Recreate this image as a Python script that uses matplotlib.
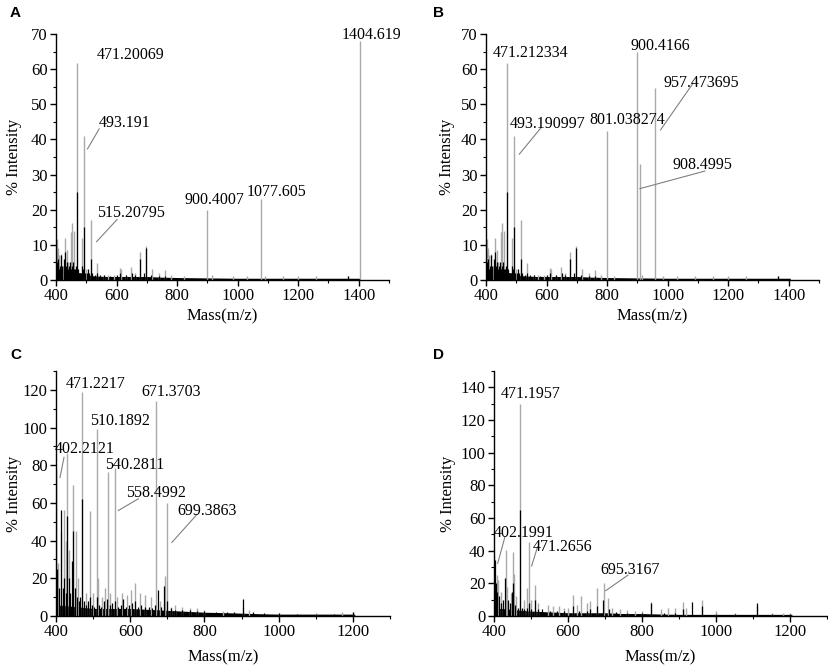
import matplotlib
matplotlib.use("Agg")
import matplotlib.pyplot as plt
from matplotlib.ticker import MultipleLocator

plt.rcParams['font.family'] = ['Liberation Serif', 'DejaVu Serif']

GREY = '#a9a9a9'
LEAD = '#808080'

# ---------------- data ----------------
# Panels A and B share the same low-mass spectrum
ab_black_mz = [401, 403, 406, 409, 412, 415, 418, 421, 425, 428, 431, 434, 437, 440, 443,
               446, 449, 452, 455, 458, 461, 464, 467, 471, 474, 478, 482, 486, 490, 493,
               497, 501, 505, 509, 515, 520, 528, 537, 545, 560, 580, 600, 612, 630, 650,
               660, 677, 690, 696, 715, 740, 760, 1365]
ab_black_int = [8, 5, 6, 3, 4, 7, 3, 4, 6, 3, 8, 4, 5, 3, 4,
                5, 3, 4, 5, 3, 2, 3, 4, 25, 3, 2, 2, 4, 3, 15,
                2, 2, 3, 2, 6, 2, 1.5, 2, 1.5, 1.5, 1.2, 1.5, 2, 1.5, 2,
                1.5, 6, 2, 9, 1.5, 1, 1, 1]
ab_grey_mz = [402, 406, 411, 416, 423, 431, 436, 441, 449, 454, 458, 471, 487, 493, 500,
              515, 537, 557, 573, 590, 610, 615, 630, 649, 660, 676, 696, 717, 739, 761,
              780, 822, 916, 985, 1030, 1090, 1150, 1200, 1260, 1365]
ab_grey_int = [11.7, 9, 7, 7.5, 4, 12, 8.5, 5, 13.7, 16.3, 14, 61.7, 12, 41, 3,
               17, 4.9, 1.5, 1.5, 1.5, 3.4, 3, 1.5, 3.7, 2, 8, 9.8, 3.1, 2, 2.8,
               1.5, 1.2, 1.5, 1.2, 1, 1, 1, 1, 1, 1]
ab_env_mz = [400, 420, 440, 460, 480, 500, 520, 560, 600, 650, 700, 750, 800, 900, 1000,
             1100, 1200, 1300, 1405]
ab_env_int = [2.5, 2.5, 2.5, 2.5, 2, 1.5, 1.2, 1, 1, 1, 1, 0.8, 0.7, 0.6, 0.5,
              0.5, 0.5, 0.5, 0.5]

a_extra_mz = [900.4007, 1077.605, 1404.619]
a_extra_int = [20, 23, 68]
b_extra_mz = [801.038274, 900.4166, 908.4995, 957.473695]
b_extra_int = [42.4, 65, 33, 54.5]

c_grey_mz = [405, 413, 421, 427, 430.5, 436, 447, 454, 460, 471, 480, 491.6, 500, 509.6,
             513, 525, 532, 539, 545, 558, 565, 578, 590, 603, 613, 625, 640, 655, 669.5,
             680, 694, 698, 710, 720, 740, 760, 780, 800, 850, 905, 920, 1000, 1100, 1170, 1200]
c_grey_int = [28, 45, 56, 40, 86.5, 35, 69.5, 45, 20, 119, 12, 55.5, 12, 99,
              20, 10, 15, 76.6, 12, 78.4, 10, 12, 11, 14, 17.4, 12, 11, 10, 114,
              8, 21, 60, 5, 6, 5, 4, 4, 3, 2.5, 5, 3, 1.5, 1.5, 2, 2]
c_black_mz = [401, 404, 408, 413.5, 418, 422, 426, 430, 434, 438, 443, 447, 451, 456, 462,
              466, 471, 476, 482, 487, 492, 497, 503, 510, 516, 522, 530, 538, 545, 552,
              558, 566, 574, 580, 588, 596, 604, 612, 620, 630, 640, 650, 660, 668, 675,
              683, 691, 700, 710, 720, 740, 760, 780, 800, 830, 860, 880, 904, 930, 960,
              1000, 1050, 1100, 1150, 1200]
c_black_int = [78, 25, 15, 56, 15, 20, 12, 53, 20, 12, 29, 45, 15, 10, 8,
               10, 62, 8, 6, 8, 10, 6, 5, 10, 6, 5, 8, 9, 6, 7,
               8, 5, 6, 9, 5, 6, 7, 8, 5, 6, 5, 5, 4, 6, 14,
               5, 16, 8, 4, 3, 3, 3, 2.5, 2.5, 2, 2, 2, 9, 2, 1.5,
               1.5, 1.2, 1.2, 1.2, 2]
c_env_mz = [400, 450, 500, 550, 600, 650, 700, 750, 800, 850, 900, 950, 1000, 1100, 1205]
c_env_int = [6, 5, 4, 4, 4, 3.5, 3, 2.5, 2, 1.8, 1.5, 1.2, 1, 1, 1]

d_grey_mz = [401, 407, 412, 420, 431.5, 436, 445, 450.4, 454, 460, 471, 480, 488, 495,
             500, 512, 520, 545, 560, 575, 590, 600, 613, 625, 636, 650, 660, 677.6, 696.5,
             707, 720, 740, 760, 780, 800, 823, 850, 870, 888, 912, 920, 963, 1000, 1050,
             1110, 1150, 1180, 1200]
d_grey_int = [37, 25, 22, 15, 40.5, 18, 14, 39, 26, 12, 130, 10, 17, 45.4,
              10, 19, 8, 7, 6, 6, 5, 5, 13, 7, 12, 8, 9, 17.3, 20,
              11, 5, 4, 3.5, 3, 3, 8.5, 4, 5, 5, 8.5, 5, 10, 3, 2,
              7, 2, 2, 2]
d_black_mz = [402, 405, 409, 414, 418, 424, 431, 438, 443, 448, 452, 457, 464, 471, 476,
              482, 490, 495, 501, 510, 518, 530, 550, 570, 590, 613, 630, 650, 660, 678,
              695, 710, 730, 760, 800, 823, 860, 890, 910, 935.6, 963, 1000, 1050, 1110.8,
              1150, 1200]
d_black_int = [34, 20, 15, 12, 8, 10, 23, 10, 8, 15, 20, 7, 5, 65, 5,
               4, 5, 8, 4, 10, 4, 4, 3, 3, 3, 6, 3, 3, 4, 6,
               10, 4, 2.5, 2, 2, 8, 2, 2, 4, 8.5, 6, 1.5, 1.5, 8,
               1, 1]
d_env_mz = [400, 450, 500, 550, 600, 650, 700, 750, 800, 850, 900, 950, 1000, 1100, 1205]
d_env_int = [5, 4, 3, 2.5, 2, 2, 2, 1.5, 1.5, 1.2, 1, 1, 1, 1, 1]

# annotation labels: text, text x, text y, leader (x0, y0, x1, y1) or None
a_labels = [("471.20069", 535, 62.8, None),
            ("493.191", 542.6, 43.4, (504, 37.3, 542.6, 43.0)),
            ("515.20795", 534, 17.8, (534, 10.9, 601.7, 17.2)),
            ("900.4007", 825, 21.5, None),
            ("1077.605", 1029, 23.9, None),
            ("1404.619", 1345, 68.6, None)]
b_labels = [("471.212334", 422, 63.4, None),
            ("493.190997", 477, 43.3, (510, 35.8, 581.5, 43.3)),
            ("801.038274", 741, 44.4, None),
            ("900.4166", 878.5, 65.4, None),
            ("957.473695", 986, 54.8, (976.5, 42.7, 1084, 56.0)),
            ("908.4995", 1016, 31.6, (908.5, 26.0, 1123, 31.0))]
c_labels = [("471.2217", 426, 121.2, None),
            ("671.3703", 631, 116.8, None),
            ("510.1892", 491.6, 101.5, None),
            ("402.2121", 397.3, 86.5, (410.8, 73.5, 421.6, 84.2)),
            ("540.2811", 532, 78.0, None),
            ("558.4992", 588, 63.0, (568, 56.0, 622, 62.2)),
            ("699.3863", 728, 53.7, (712, 39.0, 779, 53.7))]
d_labels = [("471.1957", 419, 133.7, None),
            ("402.1991", 400, 48.5, (410, 32.2, 429.6, 48.5)),
            ("471.2656", 504, 39.7, (501.6, 30.6, 517.8, 42.4)),
            ("695.3167", 688, 26.0, (702, 15.5, 762, 25.0))]

# ---------------- figure ----------------
fig = plt.figure(figsize=(8.29, 6.67), dpi=100)
W, H = 829, 667


def make_ax(l, r, t, b):
    return fig.add_axes([l / W, 1 - b / H, (r - l) / W, (b - t) / H])


panels = [
    dict(ax=make_ax(56, 389, 34, 280), letter='A', lpos=(10, 13),
         grey=(ab_grey_mz + a_extra_mz, ab_grey_int + a_extra_int),
         black=(ab_black_mz, ab_black_int), env=(ab_env_mz, ab_env_int),
         labels=a_labels, xlim=(400, 1500), ylim=(0, 70), ymaj=10, ymin=5,
         xmax_tick=1400, ylab_x=-0.126, xlab_y=-0.146),
    dict(ax=make_ax(486, 819, 34, 280), letter='B', lpos=(433, 13),
         grey=(ab_grey_mz + b_extra_mz, ab_grey_int + b_extra_int),
         black=(ab_black_mz, ab_black_int), env=(ab_env_mz, ab_env_int),
         labels=b_labels, xlim=(400, 1500), ylim=(0, 70), ymaj=10, ymin=5,
         xmax_tick=1400, ylab_x=-0.117, xlab_y=-0.146),
    dict(ax=make_ax(56, 390, 371, 616), letter='C', lpos=(10, 355),
         grey=(c_grey_mz, c_grey_int), black=(c_black_mz, c_black_int),
         env=(c_env_mz, c_env_int), labels=c_labels, xlim=(400, 1300),
         ylim=(0, 130), ymaj=20, ymin=10, xmax_tick=1200, ylab_x=-0.126, xlab_y=-0.167),
    dict(ax=make_ax(494, 827, 371, 616), letter='D', lpos=(433, 355),
         grey=(d_grey_mz, d_grey_int), black=(d_black_mz, d_black_int),
         env=(d_env_mz, d_env_int), labels=d_labels, xlim=(400, 1300),
         ylim=(0, 150), ymaj=20, ymin=10, xmax_tick=1200, ylab_x=-0.138, xlab_y=-0.167),
]

for p in panels:
    ax = p['ax']
    ax.fill_between(p['env'][0], 0, p['env'][1], color='black', lw=0, zorder=1)
    ax.vlines(p['grey'][0], 0, p['grey'][1], color=GREY, lw=1.0, zorder=2)
    ax.vlines(p['black'][0], 0, p['black'][1], color='black', lw=0.9, zorder=3)
    for txt, tx, ty, lead in p['labels']:
        ax.text(tx, ty, txt, fontsize=11.5, ha='left', va='baseline', zorder=5)
        if lead is not None:
            ax.plot([lead[0], lead[2]], [lead[1], lead[3]], color=LEAD, lw=0.8, zorder=4)
    ax.set_xlim(*p['xlim'])
    ax.set_ylim(*p['ylim'])
    ax.set_xticks(list(range(400, p['xmax_tick'] + 1, 200)))
    ax.xaxis.set_minor_locator(MultipleLocator(100))
    ax.yaxis.set_major_locator(MultipleLocator(p['ymaj']))
    ax.yaxis.set_minor_locator(MultipleLocator(p['ymin']))
    for s in ('top', 'right'):
        ax.spines[s].set_visible(False)
    for s in ('left', 'bottom'):
        ax.spines[s].set_linewidth(1.0)
    ax.tick_params(which='major', direction='out', length=4, width=1.0, labelsize=12, pad=2)
    ax.tick_params(which='minor', direction='out', length=2.5, width=0.8)
    ax.set_ylabel('% Intensity', fontsize=12, va='center')
    ax.yaxis.set_label_coords(p['ylab_x'], 0.5)
    ax.set_xlabel('Mass(m/z)', fontsize=12, va='center')
    ax.xaxis.set_label_coords(0.5, p['xlab_y'])
    fig.text(p['lpos'][0] / W, 1 - p['lpos'][1] / H, p['letter'], fontsize=11,
             fontweight='bold', family=['Liberation Sans', 'DejaVu Sans'],
             ha='left', va='center')

fig.savefig('out.png', dpi=100)
